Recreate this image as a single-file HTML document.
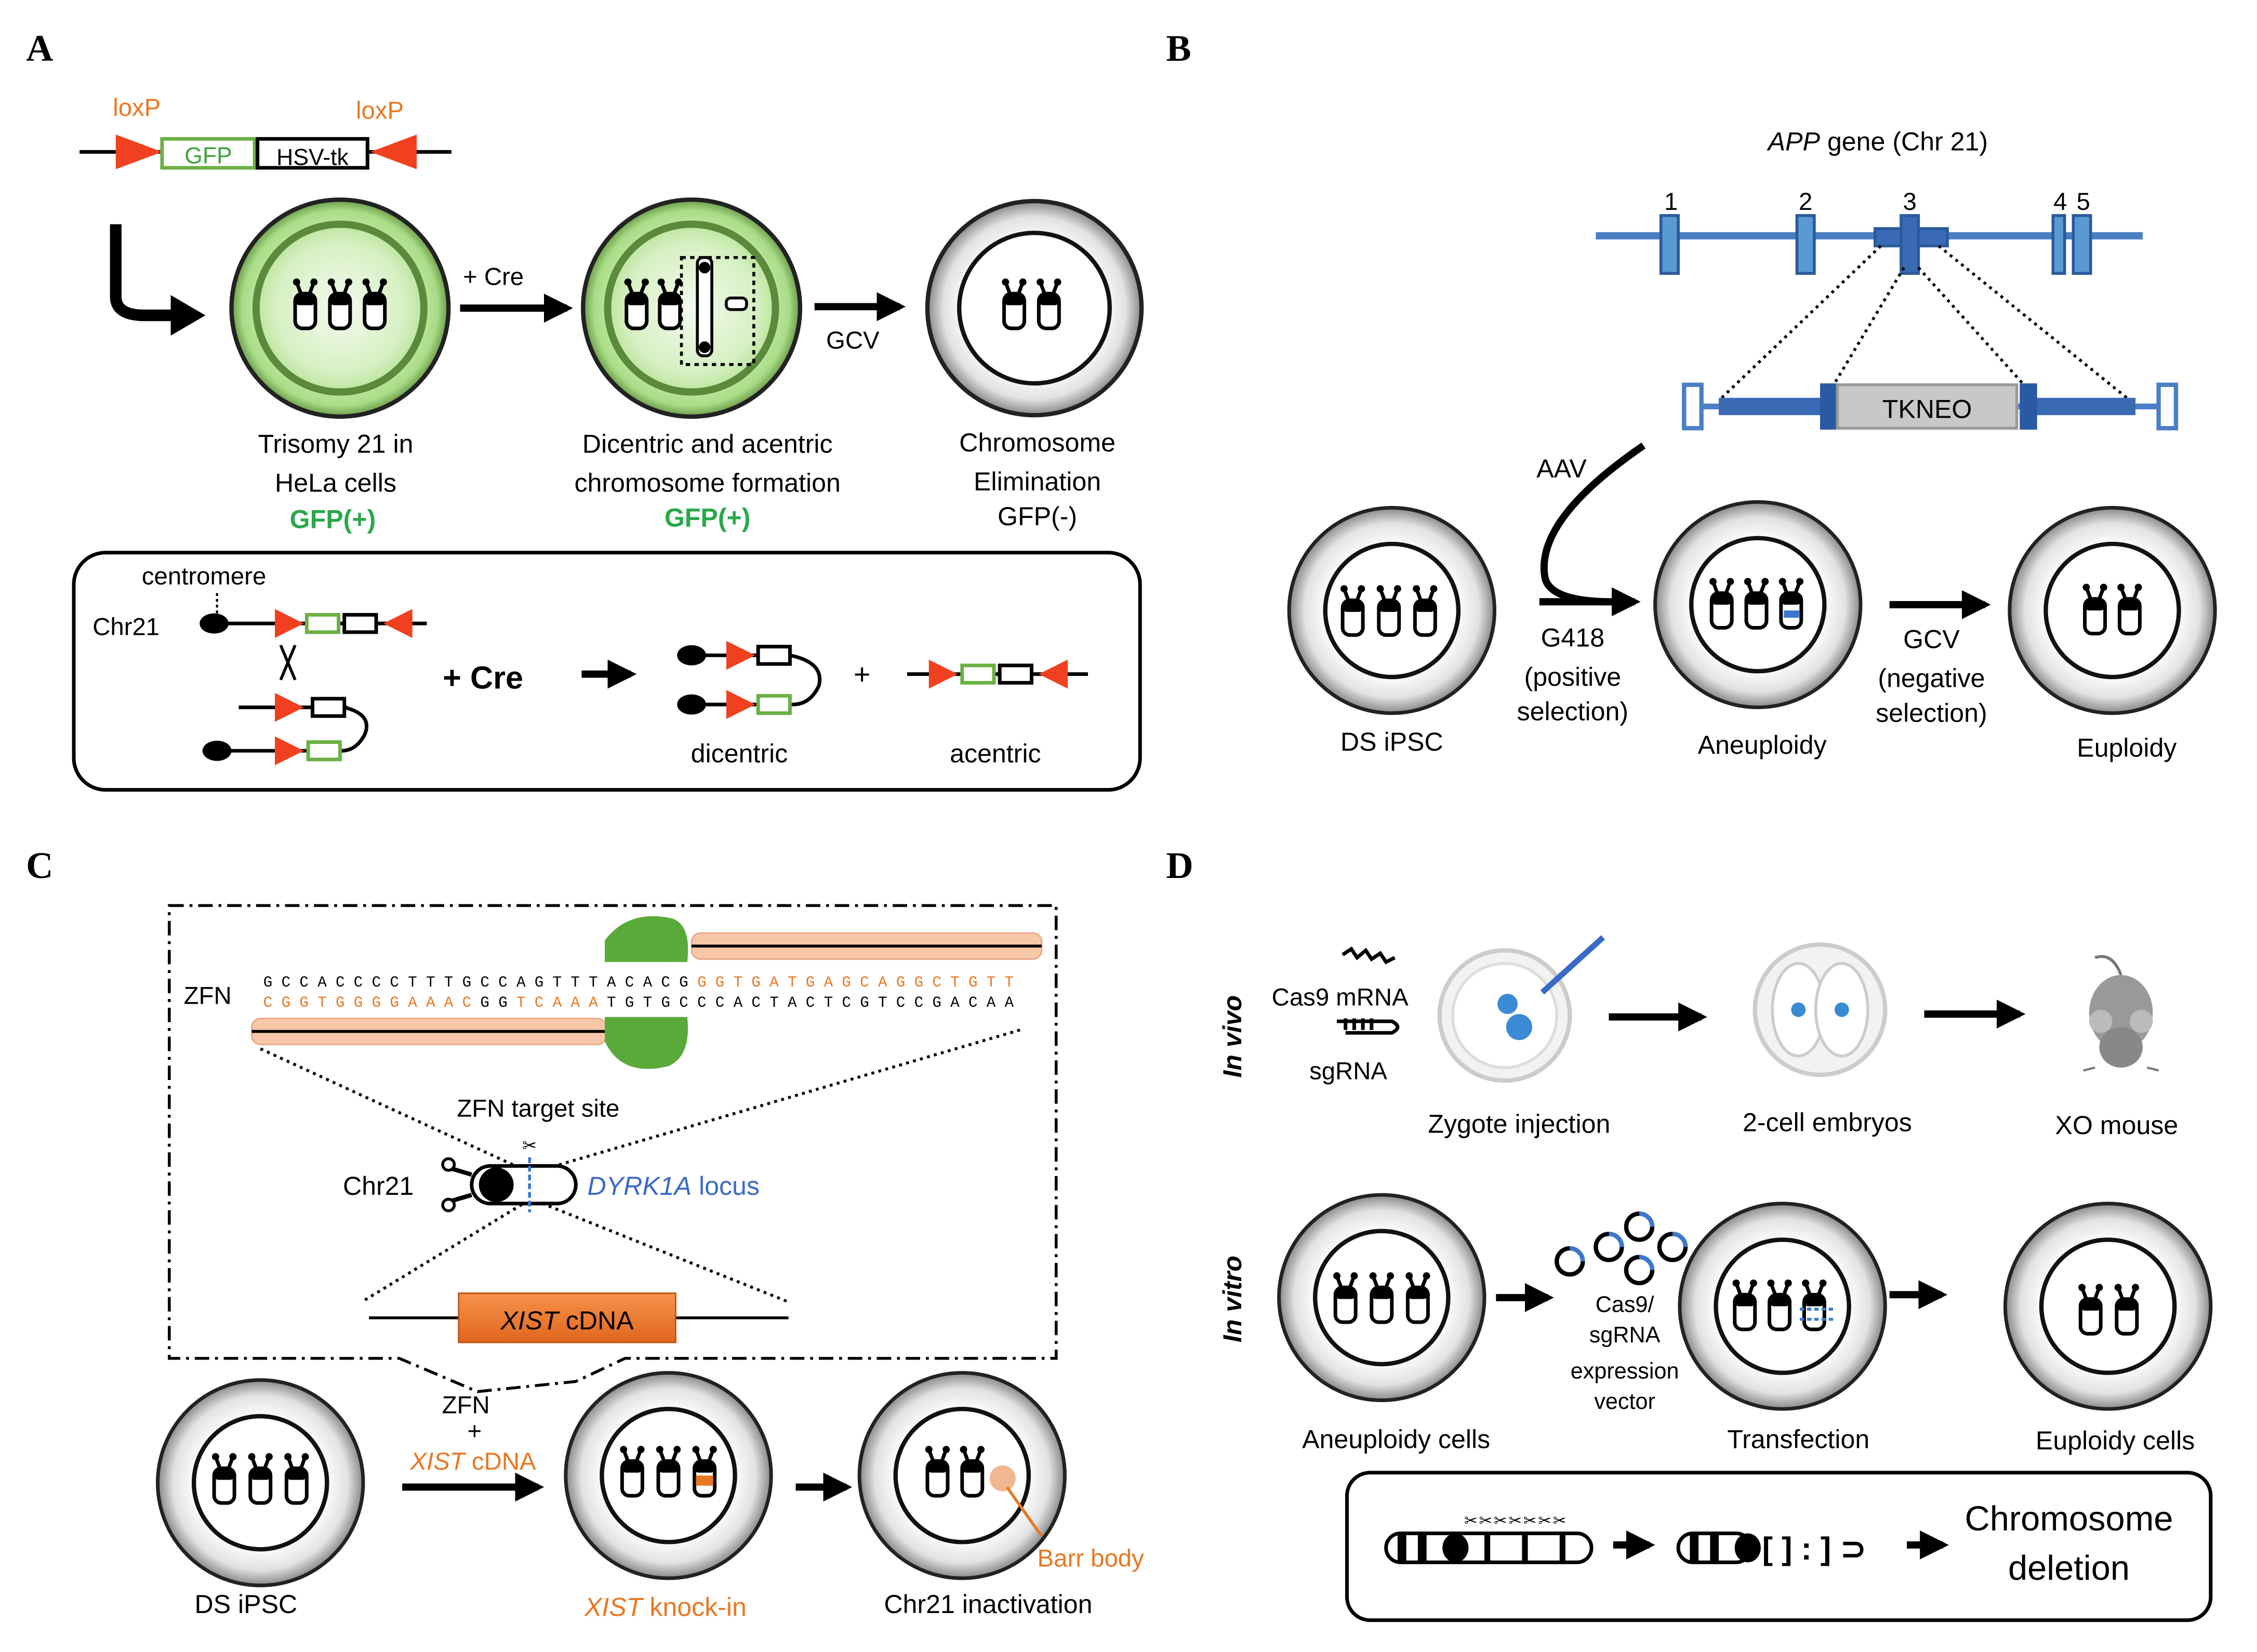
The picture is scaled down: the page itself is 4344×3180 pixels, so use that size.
<!DOCTYPE html>
<html><head><meta charset="utf-8"><style>
html,body{margin:0;padding:0;background:#fff;}
svg{display:block;}
text{font-family:"Liberation Sans","DejaVu Sans",sans-serif;}
</style></head><body>
<svg width="4344" height="3180" viewBox="0 0 1560 1142" preserveAspectRatio="none" xmlns="http://www.w3.org/2000/svg">
<defs>
<radialGradient id="cg" cx="50%" cy="50%" r="50%">
<stop offset="0.62" stop-color="#fff"/><stop offset="0.85" stop-color="#e2e2e2"/><stop offset="1" stop-color="#888"/></radialGradient>
<radialGradient id="gg" cx="50%" cy="50%" r="50%">
<stop offset="0" stop-color="#f4fbef"/><stop offset="0.6" stop-color="#d6f0c2"/><stop offset="0.9" stop-color="#a8dc85"/><stop offset="1" stop-color="#6a9a4a"/></radialGradient>
<g id="cell"><circle r="71" fill="url(#cg)" stroke="#222" stroke-width="2.5"/><circle r="46" fill="#fff" stroke="#111" stroke-width="3"/></g>
<g id="gcell"><circle r="75" fill="url(#gg)" stroke="#222" stroke-width="3"/><circle r="58" fill="none" stroke="#5a8a3a" stroke-width="5"/></g>
<g id="ch"><rect x="-7" y="-10" width="14" height="24" rx="5" fill="#fff" stroke="#000" stroke-width="2.5"/><rect x="-7" y="-10" width="14" height="8" rx="3" fill="#000"/><path d="M-3,-10 L-6,-18 M3,-10 L6,-18" stroke="#000" stroke-width="2.5"/><circle cx="-6" cy="-18" r="2.5"/><circle cx="6" cy="-18" r="2.5"/></g>
<marker id="ah" viewBox="0 0 10 10" refX="8" refY="5" markerWidth="4" markerHeight="4" orient="auto"><path d="M0,0L10,5L0,10z"/></marker>
<linearGradient id="og" x1="0" y1="0" x2="0" y2="1"><stop offset="0" stop-color="#f7924a"/><stop offset="1" stop-color="#e0661e"/></linearGradient>
</defs>

<g font-weight="bold" font-size="26">
<text x="18" y="42" style="font-family:'Liberation Serif',serif">A</text>
<text x="806" y="42" style="font-family:'Liberation Serif',serif">B</text>
<text x="18" y="607" style="font-family:'Liberation Serif',serif">C</text>
<text x="806" y="607" style="font-family:'Liberation Serif',serif">D</text>
</g>

<!-- ===== Panel A ===== -->
<text x="78" y="80" font-size="17" fill="#e87722">loxP</text>
<text x="246" y="82" font-size="17" fill="#e87722">loxP</text>
<line x1="55" y1="105" x2="312" y2="105" stroke="#000" stroke-width="2.5"/>
<path d="M80,93 L112,105 L80,117z" fill="#f04020"/>
<path d="M288,93 L256,105 L288,117z" fill="#f04020"/>
<rect x="112" y="96" width="64" height="20" fill="#fff" stroke="#6bb044" stroke-width="2.5"/>
<text x="144" y="113" font-size="16" fill="#3ba23b" text-anchor="middle">GFP</text>
<rect x="178" y="96" width="76" height="20" fill="#fff" stroke="#000" stroke-width="2.5"/>
<text x="216" y="114" font-size="16" text-anchor="middle">HSV-tk</text>
<path d="M80,155 L80,205 Q80,218 100,218 L120,218" fill="none" stroke="#000" stroke-width="8"/>
<path d="M118,204 L142,218 L118,232z"/>

<use href="#gcell" x="235" y="213"/>
<use href="#ch" x="211" y="213"/><use href="#ch" x="235" y="213"/><use href="#ch" x="259" y="213"/>
<line x1="318" y1="213" x2="392" y2="213" stroke="#000" stroke-width="5" marker-end="url(#ah)"/>
<text x="320" y="197" font-size="17">+ Cre</text>

<use href="#gcell" x="478" y="213"/>
<use href="#ch" x="440" y="213"/><use href="#ch" x="463" y="213"/>
<rect x="471" y="178" width="50" height="74" fill="none" stroke="#000" stroke-width="2" stroke-dasharray="3,3"/>
<rect x="482" y="178" width="10" height="68" rx="4" fill="#fff" stroke="#000" stroke-width="2"/>
<circle cx="487" cy="185" r="4"/><circle cx="487" cy="240" r="4"/>
<rect x="502" y="206" width="14" height="8" rx="3" fill="#fff" stroke="#000" stroke-width="2"/>
<line x1="563" y1="212" x2="622" y2="212" stroke="#000" stroke-width="5" marker-end="url(#ah)"/>
<text x="571" y="241" font-size="17">GCV</text>

<circle cx="715" cy="213" r="74" fill="url(#cg)" stroke="#222" stroke-width="3"/>
<circle cx="715" cy="213" r="52" fill="#fff" stroke="#111" stroke-width="3"/>
<use href="#ch" x="701" y="213"/><use href="#ch" x="725" y="213"/>

<g font-size="18" text-anchor="middle">
<text x="232" y="313">Trisomy 21 in</text><text x="232" y="340">HeLa cells</text>
<text x="230" y="365" fill="#2aa84a" font-weight="bold">GFP(+)</text>
<text x="489" y="313">Dicentric and acentric</text><text x="489" y="340">chromosome formation</text>
<text x="489" y="364" fill="#2aa84a" font-weight="bold">GFP(+)</text>
<text x="717" y="312">Chromosome</text><text x="717" y="339">Elimination</text><text x="717" y="363">GFP(-)</text>
</g>

<rect x="51" y="382" width="737" height="164" rx="22" fill="none" stroke="#000" stroke-width="2.5"/>
<text x="98" y="404" font-size="17">centromere</text>
<line x1="150" y1="410" x2="150" y2="425" stroke="#000" stroke-width="1.5" stroke-dasharray="2,2"/>
<text x="64" y="439" font-size="17">Chr21</text>
<line x1="140" y1="431" x2="295" y2="431" stroke="#000" stroke-width="2.5"/>
<ellipse cx="148" cy="431" rx="10" ry="7"/>
<path d="M190,421 L210,431 L190,441z" fill="#f04020"/><rect x="212" y="425" width="22" height="12" fill="#fff" stroke="#6bb044" stroke-width="2.5"/>
<rect x="238" y="425" width="22" height="12" fill="#fff" stroke="#000" stroke-width="2.5"/><path d="M285,421 L265,431 L285,441z" fill="#f04020"/>
<path d="M194,446 L204,470 M204,446 L194,470" stroke="#000" stroke-width="2"/>
<line x1="165" y1="489" x2="240" y2="489" stroke="#000" stroke-width="2.5"/>
<path d="M190,479 L210,489 L190,499z" fill="#f04020"/><rect x="216" y="483" width="22" height="12" fill="#fff" stroke="#000" stroke-width="2.5"/>
<path d="M238,489 Q258,494 252,508 Q246,519 236,519" fill="none" stroke="#000" stroke-width="2.5"/>
<line x1="140" y1="519" x2="236" y2="519" stroke="#000" stroke-width="2.5"/>
<ellipse cx="150" cy="519" rx="10" ry="7"/>
<path d="M190,509 L210,519 L190,529z" fill="#f04020"/><rect x="213" y="513" width="22" height="12" fill="#fff" stroke="#6bb044" stroke-width="2.5"/>
<text x="306" y="476" font-size="22" font-weight="bold">+ Cre</text>
<line x1="402" y1="466" x2="436" y2="466" stroke="#000" stroke-width="5" marker-end="url(#ah)"/>
<line x1="470" y1="453" x2="545" y2="453" stroke="#000" stroke-width="2.5"/>
<ellipse cx="478" cy="453" rx="10" ry="7"/><path d="M502,443 L522,453 L502,463z" fill="#f04020"/>
<rect x="524" y="447" width="22" height="12" fill="#fff" stroke="#000" stroke-width="2.5"/>
<path d="M546,453 Q570,458 566,474 Q560,487 548,487" fill="none" stroke="#000" stroke-width="2.5"/>
<line x1="470" y1="487" x2="548" y2="487" stroke="#000" stroke-width="2.5"/>
<ellipse cx="478" cy="487" rx="10" ry="7"/><path d="M502,477 L522,487 L502,497z" fill="#f04020"/>
<rect x="524" y="481" width="22" height="12" fill="#fff" stroke="#6bb044" stroke-width="2.5"/>
<text x="590" y="473" font-size="20">+</text>
<line x1="627" y1="466" x2="752" y2="466" stroke="#000" stroke-width="2.5"/>
<path d="M642,456 L662,466 L642,476z" fill="#f04020"/><rect x="665" y="460" width="22" height="12" fill="#fff" stroke="#6bb044" stroke-width="2.5"/>
<rect x="691" y="460" width="22" height="12" fill="#fff" stroke="#000" stroke-width="2.5"/><path d="M738,456 L718,466 L738,476z" fill="#f04020"/>
<text x="511" y="527" font-size="18" text-anchor="middle">dicentric</text>
<text x="688" y="527" font-size="18" text-anchor="middle">acentric</text>

<!-- ===== Panel B ===== -->
<text x="1298" y="104" font-size="18" text-anchor="middle"><tspan font-style="italic">APP</tspan> gene (Chr 21)</text>
<line x1="1103" y1="163" x2="1481" y2="163" stroke="#4a7fc4" stroke-width="5"/>
<g fill="#5a9ad4" stroke="#2a5a9a" stroke-width="2">
<rect x="1148" y="149" width="12" height="40"/><rect x="1242" y="149" width="12" height="40"/>
<rect x="1419" y="149" width="8" height="40"/><rect x="1433" y="149" width="12" height="40"/>
<rect x="1296" y="158" width="50" height="12" fill="#3a6ab4"/><rect x="1314" y="149" width="12" height="40" fill="#3a6ab4"/></g>
<g font-size="17" text-anchor="middle"><text x="1155" y="145">1</text><text x="1248" y="145">2</text><text x="1320" y="145">3</text><text x="1424" y="145">4</text><text x="1440" y="145">5</text></g>
<g stroke="#000" stroke-width="2" stroke-dasharray="2,3"><line x1="1300" y1="170" x2="1190" y2="275"/><line x1="1316" y1="185" x2="1268" y2="265"/><line x1="1326" y1="185" x2="1398" y2="265"/><line x1="1340" y1="170" x2="1470" y2="275"/></g>
<line x1="1170" y1="281" x2="1495" y2="281" stroke="#4a7fc4" stroke-width="4"/>
<rect x="1164" y="266" width="12" height="30" fill="#fff" stroke="#4a7fc4" stroke-width="3"/>
<rect x="1492" y="266" width="12" height="30" fill="#fff" stroke="#4a7fc4" stroke-width="3"/>
<rect x="1188" y="275" width="80" height="12" fill="#3a6ab4"/><rect x="1396" y="275" width="80" height="12" fill="#3a6ab4"/>
<rect x="1258" y="265" width="12" height="32" fill="#2a5aa4"/><rect x="1396" y="265" width="12" height="32" fill="#2a5aa4"/>
<rect x="1270" y="266" width="124" height="30" fill="#c8c8c8" stroke="#999" stroke-width="2"/>
<text x="1332" y="289" font-size="18" text-anchor="middle">TKNEO</text>
<text x="1062" y="330" font-size="18">AAV</text>
<path d="M1136,308 Q1060,360 1068,400 Q1072,415 1110,416" fill="none" stroke="#000" stroke-width="5"/>
<line x1="1064" y1="416" x2="1130" y2="416" stroke="#000" stroke-width="5" marker-end="url(#ah)"/>
<use href="#cell" x="962" y="422"/>
<use href="#ch" x="935" y="425"/><use href="#ch" x="960" y="425"/><use href="#ch" x="985" y="425"/>
<use href="#cell" x="1215" y="418"/>
<use href="#ch" x="1190" y="420"/><use href="#ch" x="1214" y="420"/><use href="#ch" x="1238" y="420"/>
<rect x="1233" y="422" width="11" height="5" fill="#3a78d0"/>
<line x1="1306" y1="418" x2="1372" y2="418" stroke="#000" stroke-width="5" marker-end="url(#ah)"/>
<use href="#cell" x="1460" y="422"/>
<use href="#ch" x="1448" y="424"/><use href="#ch" x="1472" y="424"/>
<g font-size="18" text-anchor="middle">
<text x="962" y="519">DS iPSC</text><text x="1087" y="447">G418</text><text x="1087" y="474">(positive</text><text x="1087" y="498">selection)</text>
<text x="1218" y="521">Aneuploidy</text>
<text x="1335" y="448">GCV</text><text x="1335" y="475">(negative</text><text x="1335" y="499">selection)</text>
<text x="1470" y="523">Euploidy</text></g>

<!-- ===== Panel C ===== -->
<path d="M117,626 L730,626 L730,939 L432,939 L398,955 L330,962 L276,939 L117,939 Z" fill="none" stroke="#000" stroke-width="2" stroke-dasharray="10,4,2,4"/>
<g fill="#f8c7a8" stroke="#e8a888" stroke-width="1">
<rect x="478" y="645" width="242" height="18" rx="6"/><rect x="174" y="704" width="245" height="18" rx="6"/></g>
<line x1="478" y1="654" x2="720" y2="654" stroke="#000" stroke-width="2"/>
<line x1="174" y1="713" x2="419" y2="713" stroke="#000" stroke-width="2"/>
<path d="M418,650 Q435,628 465,635 Q478,640 475,665 L418,665 Z" fill="#5aaa3a"/>
<path d="M418,703 L475,703 Q478,730 462,737 Q430,745 418,720 Z" fill="#5aaa3a"/>
<text x="127" y="694" font-size="17">ZFN</text>
<text x="182" y="682" font-size="10.5" letter-spacing="6.2" style="font-family:'Liberation Mono',monospace">GCCACCCCTTTGCCAGTTTACACG<tspan fill="#e87722">GGTGATGAGCAGGCTGTT</tspan></text>
<text x="182" y="696" font-size="10.5" letter-spacing="6.2" style="font-family:'Liberation Mono',monospace"><tspan fill="#e87722">CGGTGGGGAAAC</tspan>GG<tspan fill="#e87722">TCAAA</tspan>TGTGCCCACTACTCGTCCGACAA</text>
<g stroke="#000" stroke-width="2" stroke-dasharray="2,3"><line x1="180" y1="725" x2="365" y2="810"/><line x1="705" y1="712" x2="370" y2="810"/><line x1="365" y1="830" x2="250" y2="900"/><line x1="370" y1="830" x2="545" y2="900"/></g>
<text x="372" y="772" font-size="17" text-anchor="middle">ZFN target site</text>
<text x="237" y="826" font-size="18">Chr21</text>
<rect x="326" y="806" width="72" height="26" rx="13" fill="#fff" stroke="#000" stroke-width="2.5"/>
<ellipse cx="343" cy="819" rx="12" ry="12"/>
<path d="M326,812 L306,806 M326,826 L306,832" stroke="#000" stroke-width="3"/><circle cx="310" cy="805" r="4" fill="#fff" stroke="#000" stroke-width="2"/><circle cx="310" cy="833" r="4" fill="#fff" stroke="#000" stroke-width="2"/>
<line x1="366" y1="800" x2="366" y2="838" stroke="#3a78d0" stroke-width="2" stroke-dasharray="4,2"/>
<text x="366" y="796" font-size="12" text-anchor="middle">✂</text>
<text x="406" y="826" font-size="18" fill="#3a6ac8"><tspan font-style="italic">DYRK1A</tspan> locus</text>
<line x1="255" y1="911" x2="545" y2="911" stroke="#000" stroke-width="2"/>
<rect x="317" y="894" width="150" height="34" fill="url(#og)" stroke="#c05010" stroke-width="1"/>
<text x="392" y="919" font-size="18" text-anchor="middle"><tspan font-style="italic">XIST</tspan> cDNA</text>

<use href="#cell" x="180" y="1025"/>
<use href="#ch" x="155" y="1025"/><use href="#ch" x="180" y="1025"/><use href="#ch" x="205" y="1025"/>
<text x="322" y="977" font-size="17" text-anchor="middle">ZFN</text><text x="328" y="995" font-size="17" text-anchor="middle">+</text>
<text x="327" y="1016" font-size="17" text-anchor="middle" fill="#e87722"><tspan font-style="italic">XIST</tspan> cDNA</text>
<line x1="278" y1="1028" x2="372" y2="1028" stroke="#000" stroke-width="5" marker-end="url(#ah)"/>
<use href="#cell" x="462" y="1020"/>
<use href="#ch" x="437" y="1020"/><use href="#ch" x="462" y="1020"/><use href="#ch" x="487" y="1020"/>
<rect x="481" y="1020" width="12" height="7" fill="#e87722"/>
<line x1="550" y1="1028" x2="585" y2="1028" stroke="#000" stroke-width="5" marker-end="url(#ah)"/>
<use href="#cell" x="665" y="1020"/>
<use href="#ch" x="648" y="1020"/><use href="#ch" x="672" y="1020"/>
<circle cx="693" cy="1022" r="9" fill="#f0b890"/>
<line x1="696" y1="1028" x2="720" y2="1062" stroke="#e87722" stroke-width="2"/>
<text x="717" y="1083" font-size="17" fill="#e87722">Barr body</text>
<text x="170" y="1115" font-size="18" text-anchor="middle">DS iPSC</text>
<text x="460" y="1117" font-size="18" text-anchor="middle" fill="#e87722"><tspan font-style="italic">XIST</tspan> knock-in</text>
<text x="683" y="1115" font-size="18" text-anchor="middle">Chr21 inactivation</text>

<!-- ===== Panel D ===== -->
<text transform="translate(858,745) rotate(-90)" font-size="18" font-style="italic" font-weight="bold">In vivo</text>
<text transform="translate(858,928) rotate(-90)" font-size="18" font-style="italic" font-weight="bold">In vitro</text>
<path d="M928,660 l6,-4 l4,6 l6,-5 l4,6 l6,-4 l4,6 l6,-3" fill="none" stroke="#000" stroke-width="2.5"/>
<path d="M924,706 L962,706 Q970,710 962,714 L930,714 M930,704 v8 M936,704 v8 M942,704 v8 M948,704 v8" fill="none" stroke="#000" stroke-width="2.5"/>
<text x="879" y="695" font-size="17">Cas9 mRNA</text>
<text x="905" y="746" font-size="17">sgRNA</text>
<circle cx="1040" cy="702" r="45" fill="#f2f2f2" stroke="#ccc" stroke-width="3"/>
<circle cx="1040" cy="702" r="36" fill="#fff" stroke="#ddd" stroke-width="2"/>
<circle cx="1042" cy="694" r="7" fill="#3a8ad4"/><circle cx="1050" cy="710" r="9" fill="#3a8ad4"/>
<line x1="1066" y1="686" x2="1108" y2="648" stroke="#3a6ac8" stroke-width="4"/>
<line x1="1112" y1="703" x2="1176" y2="703" stroke="#000" stroke-width="5" marker-end="url(#ah)"/>
<circle cx="1258" cy="698" r="45" fill="#f2f2f2" stroke="#ccc" stroke-width="3"/>
<ellipse cx="1243" cy="698" rx="18" ry="32" fill="#fff" stroke="#ccc" stroke-width="2"/>
<ellipse cx="1273" cy="698" rx="18" ry="32" fill="#fff" stroke="#ccc" stroke-width="2"/>
<circle cx="1243" cy="698" r="5" fill="#3a8ad4"/><circle cx="1273" cy="698" r="5" fill="#3a8ad4"/>
<line x1="1330" y1="701" x2="1396" y2="701" stroke="#000" stroke-width="5" marker-end="url(#ah)"/>
<ellipse cx="1466" cy="700" rx="22" ry="26" fill="#999"/><ellipse cx="1466" cy="724" rx="15" ry="14" fill="#888"/>
<circle cx="1452" cy="706" r="8" fill="#bbb"/><circle cx="1480" cy="706" r="8" fill="#bbb"/>
<path d="M1466,674 Q1460,658 1448,662" fill="none" stroke="#777" stroke-width="2"/>
<path d="M1448,738 l-8,2 M1484,738 l8,2" stroke="#777" stroke-width="1.5"/>
<g font-size="18" text-anchor="middle"><text x="1050" y="783">Zygote injection</text><text x="1263" y="782">2-cell embryos</text><text x="1463" y="784">XO mouse</text></g>

<use href="#cell" x="955" y="897"/>
<use href="#ch" x="930" y="900"/><use href="#ch" x="955" y="900"/><use href="#ch" x="980" y="900"/>
<line x1="1034" y1="897" x2="1070" y2="897" stroke="#000" stroke-width="5" marker-end="url(#ah)"/>
<g fill="none" stroke="#000" stroke-width="3">
<circle cx="1085" cy="872" r="9"/><circle cx="1112" cy="862" r="9"/><circle cx="1133" cy="848" r="9"/><circle cx="1156" cy="862" r="9"/><circle cx="1133" cy="878" r="9"/></g>
<g fill="none" stroke="#3a78d0" stroke-width="3">
<path d="M1085,863 a9,9 0 0,1 9,9"/><path d="M1112,853 a9,9 0 0,1 9,9"/><path d="M1133,839 a9,9 0 0,1 9,9"/><path d="M1156,853 a9,9 0 0,1 9,9"/><path d="M1133,869 a9,9 0 0,1 9,9"/></g>
<g font-size="15.5" text-anchor="middle"><text x="1123" y="907">Cas9/</text><text x="1123" y="928">sgRNA</text><text x="1123" y="953">expression</text><text x="1123" y="974">vector</text></g>
<use href="#cell" x="1232" y="903"/>
<use href="#ch" x="1206" y="905"/><use href="#ch" x="1230" y="905"/><use href="#ch" x="1254" y="905"/>
<path d="M1244,905 h24 M1244,912 h24" stroke="#3a78d0" stroke-width="2" stroke-dasharray="3,2"/>
<line x1="1306" y1="895" x2="1342" y2="895" stroke="#000" stroke-width="5" marker-end="url(#ah)"/>
<use href="#cell" x="1457" y="903"/>
<use href="#ch" x="1445" y="908"/><use href="#ch" x="1470" y="908"/>
<g font-size="18" text-anchor="middle"><text x="965" y="1001">Aneuploidy cells</text><text x="1243" y="1001">Transfection</text><text x="1462" y="1002">Euploidy cells</text></g>

<rect x="931" y="1018" width="597" height="102" rx="16" fill="none" stroke="#000" stroke-width="2.5"/>
<rect x="958" y="1060" width="142" height="20" rx="10" fill="#fff" stroke="#000" stroke-width="2.5"/>
<g fill="#000"><rect x="966" y="1060" width="6" height="20"/><rect x="980" y="1060" width="6" height="20"/><ellipse cx="1006" cy="1070" rx="9" ry="10"/><rect x="1026" y="1060" width="4" height="20"/><rect x="1052" y="1060" width="4" height="20"/><rect x="1078" y="1060" width="4" height="20"/></g>
<text x="1012" y="1055" font-size="11" letter-spacing="1">✂✂✂✂✂✂✂</text>
<line x1="1115" y1="1068" x2="1140" y2="1068" stroke="#000" stroke-width="5" marker-end="url(#ah)"/>
<rect x="1160" y="1060" width="50" height="20" rx="10" fill="#fff" stroke="#000" stroke-width="2.5"/>
<g fill="#000"><rect x="1168" y="1060" width="6" height="20"/><rect x="1182" y="1060" width="6" height="20"/><ellipse cx="1208" cy="1070" rx="9" ry="10"/></g>
<text x="1218" y="1078" font-size="22" font-weight="bold">[ ] : ] ⊃</text>
<line x1="1318" y1="1068" x2="1343" y2="1068" stroke="#000" stroke-width="5" marker-end="url(#ah)"/>
<text x="1430" y="1058" font-size="24" text-anchor="middle">Chromosome</text>
<text x="1430" y="1092" font-size="24" text-anchor="middle">deletion</text>
</svg>
</body></html>
